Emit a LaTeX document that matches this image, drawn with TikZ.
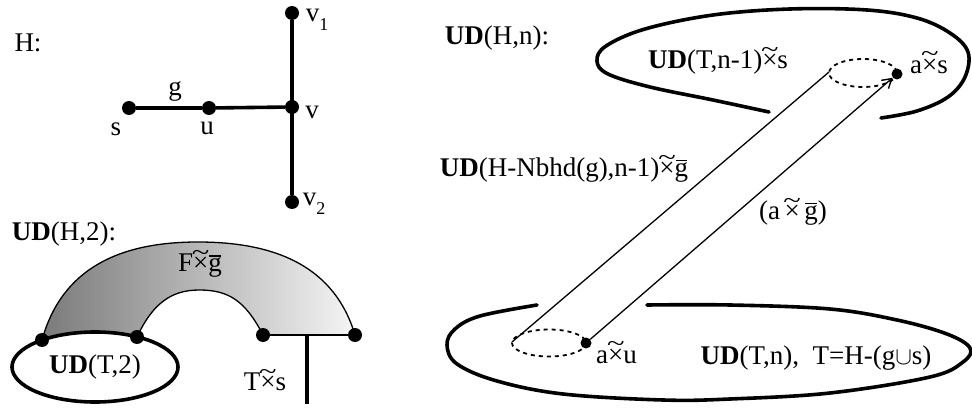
\documentclass[tikz,border=0pt]{standalone}
\usepackage{fontspec}
\usepackage{graphicx}
\setmainfont{Liberation Serif}
\usetikzlibrary{arrows.meta,shapes.geometric}
\newcommand{\tx}{\mbox{\ooalign{×\cr\hidewidth\raisebox{0.42em}{\scalebox{1.2}[0.9]{\char"7E}}\hidewidth\cr}}}
\newcommand{\gb}{\mbox{\ooalign{g\cr\hidewidth\rule[0.56em]{0.42em}{0.05em}\hidewidth\cr}}}
\newcommand{\UD}{\textbf{UD}}
\newcommand{\sbs}[1]{\raisebox{-0.35em}{\fontsize{18}{20}\selectfont #1}}
\begin{document}
\begin{tikzpicture}[x=1pt,y=-1pt,
  every node/.style={font=\fontsize{27}{31}\selectfont, inner sep=0pt},
  dot/.style={circle, fill=black, minimum size=14pt, inner sep=0pt},
  sdot/.style={circle, fill=black, minimum size=11pt, inner sep=0pt},
  heavy/.style={line width=3.6pt},
  fine/.style={line width=1.3pt},
  dashring/.style={line width=1.8pt, dash pattern=on 4pt off 4pt},
]
\useasboundingbox (0,0) rectangle (972,409);

% ---------- graph H ----------
\node (Hlab) at (28,43) {H:};
\node[dot] (v1) at (292,13) {};
\node[dot] (v) at (292,107) {};
\node[dot] (v2) at (292,202) {};
\node[dot] (s) at (129,108) {};
\node[dot] (u) at (209,108) {};
\draw[heavy] (s) -- (u) -- (v);
\draw[heavy] (v1) -- (v2);
\node (glab) at (175,91) {g};
\node (slab) at (116,129) {s};
\node (ulab) at (207,128) {u};
\node (vlab) at (312,112) {v};
\node (v1lab) at (317,20) {v\sbs{1}};
\node (v2lab) at (314,204) {v\sbs{2}};

% ---------- UD(H,2) ----------
\node (udh2) at (64,234) {\UD(H,2):};
\shade[left color=black!52, right color=black!4]
  (42,340) .. controls (62,268) and (120,242) .. (198,242)
  .. controls (278,242) and (335,268) .. (355,335) -- (263,335)
  .. controls (245,300) and (228,290) .. (199,290)
  .. controls (170,290) and (152,305) .. (137,337)
  .. controls (115,331) and (68,331) .. (42,340) -- cycle;
\node[heavy, draw, ellipse, minimum width=166pt, minimum height=70pt] (udt2) at (95,367) {\UD(T,2)};
\node[dot] (a1) at (42,340) {};
\node[dot] (a2) at (137,337) {};
\node[dot] (a3) at (263,335) {};
\node[dot] (a4) at (355,335) {};
\draw[fine] (a1.center) .. controls (62,268) and (120,242) .. (198,242)
  .. controls (278,242) and (335,268) .. (a4.center);
\draw[fine] (a2.center) .. controls (152,305) and (170,290) .. (199,290)
  .. controls (228,290) and (245,300) .. (a3.center);
\draw[fine] (a3) -- (a4);
\coordinate (tb) at (307,335);
\coordinate (te) at (307,404);
\draw[heavy] (tb) -- (te);
\node (fg) at (200,263) {F\tx\gb};
\node (ts) at (265,382) {T\tx s};

% ---------- UD(H,n) ----------
\node (udhn) at (497,38) {\UD(H,n):};
\draw[heavy, line cap=round] plot[smooth, tension=0.6] coordinates {
  (769,112) (713,100) (650,87) (608,74) (597,61) (606,46) (645,29)
  (713,15) (790,9) (867,10) (917,18) (950,33) (968,52) (965,77)
  (948,97) (917,111) (881,118)};
\node (udtn1) at (718,62) {\UD(T,n-1)\tx s};
\draw[dashring] (863,73) ellipse (34 and 14);
\coordinate (tl) at (829,72);
\node[sdot] (dt) at (897,74) {};
\node[anchor=west] (as) at (910,66) {a\tx s};

\draw[heavy, line cap=round] plot[smooth, tension=0.6] coordinates {
  (647,305) (730,305) (830,309) (897,320) (947,334) (970,348)
  (963,362) (930,377) (830,393) (730,399) (663,400) (563,394)
  (497,381) (457,364) (447,345) (455,329) (480,316) (537,305)};
\draw[dashring] (549,343) ellipse (37 and 13.5);
\coordinate (bl) at (512,342);
\node[sdot] (db) at (586,343) {};
\node[anchor=west] (au) at (596,356) {a\tx u};
\node (udtn) at (816,358) {\UD(T,n),\ \ T=H-(g$\cup$s)};

\draw[fine] (bl) -- (tl);
\draw[fine, -{Straight Barb[length=9pt, width=11pt, line width=1.4pt]}] (db) -- (dt);

\node (nb) at (564,170) {\UD(H-Nbhd(g),n-1)\tx\gb};
\node (ag) at (793,213) {(a\,\tx\,\gb)};
\end{tikzpicture}
\end{document}
